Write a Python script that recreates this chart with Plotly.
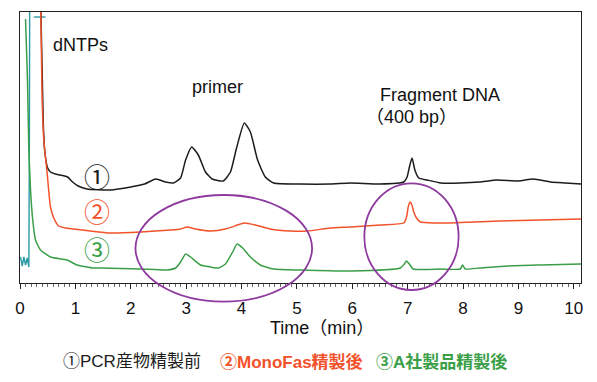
import plotly.graph_objects as go

# ---------------- data (time in min, signal in arbitrary units) ----------------
t_pcr = [0.37, 0.42, 0.45, 0.50, 0.55, 0.64, 0.72, 0.86, 0.95, 1.05, 1.21, 1.63, 2.00, 2.25, 2.45,
         2.63, 2.77, 2.90, 2.99, 3.10, 3.22, 3.35, 3.47, 3.67, 3.80, 3.91, 4.05, 4.16, 4.29, 4.43,
         4.58, 5.06, 5.60, 5.97, 6.50, 6.93, 6.99, 7.04, 7.08, 7.13, 7.20, 7.35, 7.60, 7.95, 8.30,
         8.61, 9.00, 9.27, 9.58, 9.85, 10.13]
sig_pcr = [290, 160, 130, 115, 111, 109, 108, 106, 101, 97, 94, 93, 96, 99, 104,
           101, 100, 105, 123, 136, 128, 111, 104, 102, 111, 135, 160, 151, 123, 106,
           100, 99, 99, 100, 99, 101, 106, 118, 125, 113, 105, 103, 100, 100, 101,
           103, 102, 104, 101, 100, 99]

t_monofas = [0.37, 0.40, 0.43, 0.49, 0.55, 0.61, 0.70, 0.82, 0.97, 1.27, 1.63, 2.18, 2.72, 2.90,
             3.02, 3.17, 3.44, 3.71, 3.93, 4.05, 4.25, 4.52, 4.88, 5.19, 5.60, 5.97, 6.51, 6.93,
             6.98, 7.01, 7.04, 7.07, 7.11, 7.16, 7.23, 7.50, 7.77, 8.20, 8.67, 9.40, 10.13]
sig_monofas = [290, 183, 143, 110, 76, 65, 57, 55, 54, 52, 50, 51, 53, 54,
               56, 54, 52, 54, 58, 60, 58, 54, 52, 52, 55, 56, 58, 60,
               66, 76, 81, 79, 71, 65, 61, 60, 60, 61, 62, 63, 64]

t_company_a = [0.10, 0.135, 0.16, 0.19, 0.23, 0.28, 0.37, 0.55, 0.85, 1.03, 1.33, 1.45, 2.18, 2.66,
               2.81, 2.90, 2.99, 3.08, 3.26, 3.44, 3.58, 3.71, 3.84, 3.92, 4.02, 4.16, 4.34, 4.58,
               5.06, 5.97, 6.87, 6.94, 6.98, 7.03, 7.10, 7.59, 7.95, 7.99, 8.04, 8.30, 8.80, 9.40,
               10.13]
sig_company_a = [264, 203, 133, 93, 63, 43, 33, 26, 23, 18, 15, 15, 14, 13,
                 15, 21, 29, 26, 18, 16, 15, 19, 31, 39, 35, 26, 18, 14,
                 13, 12, 15, 19, 22, 19, 14, 14, 14, 18, 14, 15, 17, 18,
                 19]

t_blank = [0.01, 0.04, 0.07, 0.10, 0.13, 0.16, 0.17, 0.175]
sig_blank = [26, 17, 26, 18, 25, 16, 150, 290]

t_marker = [0.25, 0.46]
sig_marker = [266, 266]

X_RANGE = [0, 10.13]
Y_RANGE = [0, 271]

# circled ellipse regions (time / signal)
circle_regions = [(2.085, 5.274, -18.7, 88.0), (6.218, 7.92, -7.0, 99.7)]

peak_labels = [("dNTPs", 1.09, 238), ("primer", 3.57, 196.5), ("Fragment DNA", 6.47, 188)]

BLACK = "#1c1c1c"
RED = "#f2522b"
GREEN = "#3a9e47"
TEAL = "#2b9aa6"
PURPLE = "#8e3a9e"
LATIN = "Liberation Sans, Arial, Noto Sans CJK JP"

fig = go.Figure()
fig.add_trace(go.Scatter(x=t_blank, y=sig_blank, mode="lines", line=dict(color=TEAL, width=1.4)))
fig.add_trace(go.Scatter(x=t_marker, y=sig_marker, mode="lines", line=dict(color=TEAL, width=1.4)))
fig.add_trace(go.Scatter(x=t_company_a, y=sig_company_a, mode="lines",
                         line=dict(color=GREEN, width=1.5, shape="spline", smoothing=0.5)))
fig.add_trace(go.Scatter(x=t_pcr, y=sig_pcr, mode="lines",
                         line=dict(color=BLACK, width=1.5, shape="spline", smoothing=0.5)))
fig.add_trace(go.Scatter(x=t_monofas, y=sig_monofas, mode="lines",
                         line=dict(color=RED, width=1.5, shape="spline", smoothing=0.5)))


def to_paper_x(v):
    return (v - X_RANGE[0]) / (X_RANGE[1] - X_RANGE[0])


def to_paper_y(v):
    return (v - Y_RANGE[0]) / (Y_RANGE[1] - Y_RANGE[0])


shapes = []
for x0, x1, y0, y1 in circle_regions:
    shapes.append(dict(type="circle", xref="paper", yref="paper",
                       x0=to_paper_x(x0), x1=to_paper_x(x1), y0=to_paper_y(y0), y1=to_paper_y(y1),
                       line=dict(color=PURPLE, width=1.8), layer="above"))

annotations = []
for txt, x, y in peak_labels:
    annotations.append(dict(text=txt, x=x, y=y, xref="x", yref="y", showarrow=False,
                            xanchor="left" if txt.startswith("Fragment") else "center",
                            yanchor="middle", font=dict(family=LATIN, size=18, color="#111")))
annotations.append(dict(text="（400 bp）", x=6.22, y=166, xref="x", yref="y", showarrow=False,
                        xanchor="left", yanchor="middle", font=dict(family=LATIN, size=18, color="#111")))

# circled trace numbers
for num, y, col in [("①", 108, BLACK), ("②", 73, RED), ("③", 35, GREEN)]:
    annotations.append(dict(text=num, x=1.39, y=y, xref="x", yref="y", showarrow=False,
                            xanchor="center", yanchor="middle",
                            font=dict(family="Noto Sans CJK JP", size=26, color=col)))

# axis title
annotations.append(dict(text="Time（min）", x=0.538, y=-0.166, xref="paper", yref="paper",
                        showarrow=False, xanchor="center", yanchor="middle",
                        font=dict(family=LATIN, size=18, color="#111")))

# legend texts
legend_items = [("①PCR産物精製前", BLACK, 0.073, False),
                ("②MonoFas精製後", RED, 0.353, True),
                ("③A社製品精製後", GREEN, 0.631, True)]
for txt, col, x, bold in legend_items:
    annotations.append(dict(text=f"<b>{txt}</b>" if bold else txt, x=x, y=-0.2915,
                            xref="paper", yref="paper", showarrow=False,
                            xanchor="left", yanchor="middle",
                            font=dict(family=LATIN, size=17, color=col)))

fig.update_layout(
    width=597, height=382,
    margin=dict(l=20, r=16, t=12, b=99),
    paper_bgcolor="white", plot_bgcolor="white",
    showlegend=False,
    shapes=shapes, annotations=annotations,
    xaxis=dict(range=X_RANGE, showline=True, mirror=True, linecolor="#222", linewidth=1,
               ticks="outside", ticklen=5, tickcolor="#222", tick0=0, dtick=1,
               showgrid=False, zeroline=False, ticklabelstandoff=5,
               tickfont=dict(family=LATIN, size=17, color="#111"),
               minor=dict(dtick=0.1, ticks="outside", ticklen=3, tickcolor="#666", showgrid=False)),
    yaxis=dict(range=Y_RANGE, showline=True, mirror=True, linecolor="#222", linewidth=1,
               showticklabels=False, ticks="", showgrid=False, zeroline=False),
)

fig.write_html("out.html", config={"displayModeBar": False},
               post_script="document.body.style.margin='0px';")
